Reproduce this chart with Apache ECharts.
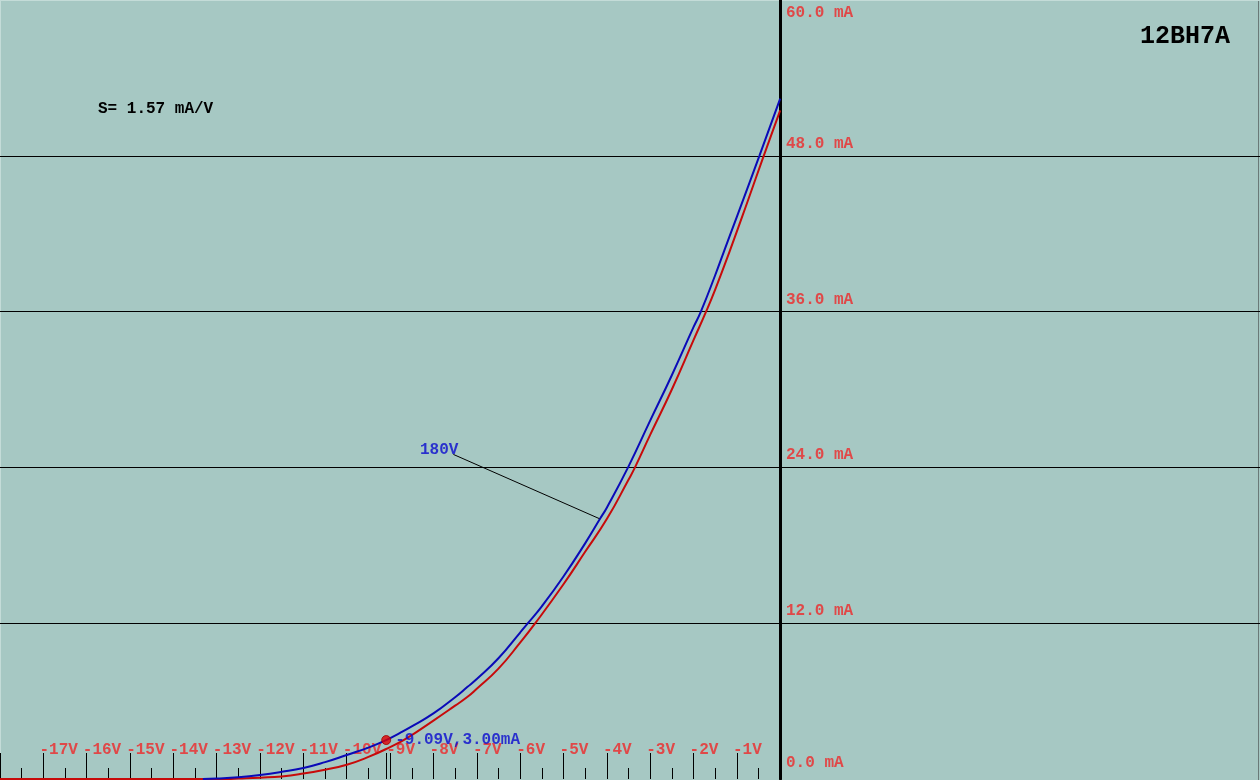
<!DOCTYPE html>
<html>
<head>
<meta charset="utf-8">
<script src="https://cdn.jsdelivr.net/npm/echarts@6/dist/echarts.min.js"></script>
<style>
html,body{margin:0;padding:0;background:#a6c8c3;}
#chart{width:1260px;height:780px;}
</style>
</head>
<body>
<div id="chart"></div>
<script>
// ---- data ----
const blueVolts = [-13.32, -13.0, -12.5, -12.0, -11.5, -11.0, -10.5, -10.0, -9.5, -9.09, -8.77, -8.5, -8.0, -7.5, -7.22, -7.0, -6.5, -6.0, -5.82, -5.5, -5.0, -4.5, -4.15, -4.0, -3.51, -3.0, -2.5, -2.0, -1.83, -1.5, -1.29, -1.0, -0.48, 0];
const blueMA    = [0, 0.04, 0.14, 0.31, 0.55, 0.85, 1.3, 1.85, 2.42, 3.0, 3.55, 4.05, 5.05, 6.3, 7.08, 7.7, 9.3, 11.28, 12.0, 13.3, 15.6, 18.15, 20.08, 20.9, 24.0, 27.6, 31.1, 34.8, 36.0, 38.8, 40.7, 43.3, 48.0, 52.4];
const redVolts  = [-18, -12.76, -12.5, -12.0, -11.5, -11.0, -10.5, -10.0, -9.5, -9.0, -8.61, -8.0, -7.5, -7.22, -7.0, -6.5, -6.0, -5.65, -5.0, -4.5, -3.99, -3.5, -3.35, -3.0, -2.5, -2.0, -1.71, -1.5, -1.16, -0.75, -0.38, 0];
const redMA     = [0, 0, 0.03, 0.1, 0.2, 0.42, 0.72, 1.1, 1.7, 2.46, 3.15, 4.5, 5.65, 6.31, 6.95, 8.5, 10.5, 12.0, 15.0, 17.5, 20.08, 23.05, 24.0, 26.5, 30.0, 33.8, 36.0, 37.7, 40.7, 44.5, 48.0, 51.5];
const markerPoint = [-9.09, 3.0];
const markerText = '-9.09V,3.00mA';
const leaderVolts = [-7.54, -4.17];
const leaderMA = [25.0, 20.05];
const curveLabelPoint = [-8.31, 25.38];
const curveLabelText = '180V';
const xLabelValues = [-17,-16,-15,-14,-13,-12,-11,-10,-9,-8,-7,-6,-5,-4,-3,-2,-1];
const xTickLabels = ['-17V','-16V','-15V','-14V','-13V','-12V','-11V','-10V','-9V','-8V','-7V','-6V','-5V','-4V','-3V','-2V','-1V'];
const majorTicks = [-18,-17,-16,-15,-14,-13,-12,-11,-10,-9,-8,-7,-6,-5,-4,-3,-2,-1,-9.09];
const minorTicks = [-17.5,-16.5,-15.5,-14.5,-13.5,-12.5,-11.5,-10.5,-9.5,-8.5,-7.5,-6.5,-5.5,-4.5,-3.5,-2.5,-1.5,-0.5];
const yTickValues = [0, 12, 24, 36, 48, 60];
const yTickLabels = ['0.0 mA','12.0 mA','24.0 mA','36.0 mA','48.0 mA','60.0 mA'];
const tubeName = '12BH7A';
const slopeText = 'S= 1.57 mA/V';

// ---- build ----
const FONT = '"Liberation Mono", "DejaVu Sans Mono", monospace';
const RED_TXT = '#e04848';
const blueData = blueVolts.map((v,i)=>[v, blueMA[i]]);
const redData = redVolts.map((v,i)=>[v, redMA[i]]);
const leaderData = leaderVolts.map((v,i)=>[v, leaderMA[i]]);
const labelShift = 0.09;
const xLabelPos = xLabelValues.map(v => +(v - labelShift).toFixed(3));
const X_MIN = -18, X_MAX = 11.07, W = 1260;
const zeroOffset = -Math.round((0 - X_MIN) / (X_MAX - X_MIN) * W);

const chart = echarts.init(document.getElementById('chart'));
const option = {
  backgroundColor: '#a6c8c3',
  animation: false,
  grid: {left: 0, right: 0, top: -1, bottom: 1},
  xAxis: [{
    type: 'value', min: X_MIN, max: X_MAX, position: 'bottom',
    axisLine: {show: false, onZero: false},
    splitLine: {show: false},
    axisTick: {show: true, inside: true, length: 26, customValues: majorTicks, lineStyle: {color: '#000', width: 1}},
    axisLabel: {
      show: true, inside: true, margin: 29, customValues: xLabelPos,
      align: 'left', verticalAlign: 'middle',
      color: RED_TXT, fontFamily: FONT, fontSize: 16, fontWeight: 'bold',
      formatter: function (v) {
        const i = xLabelPos.indexOf(v);
        return i >= 0 ? xTickLabels[i] : '';
      }
    }
  }, {
    type: 'value', min: X_MIN, max: X_MAX, position: 'bottom',
    axisLine: {show: false, onZero: false},
    splitLine: {show: false},
    axisTick: {show: true, inside: true, length: 11, customValues: minorTicks, lineStyle: {color: '#000', width: 1}},
    axisLabel: {show: false}
  }],
  yAxis: {
    type: 'value', min: 0, max: 60, interval: 12, position: 'left', offset: zeroOffset,
    axisLine: {show: true, onZero: false, lineStyle: {color: '#000', width: 3}},
    axisTick: {show: false},
    splitLine: {show: true, lineStyle: {color: ['rgba(0,0,0,0)', '#000', '#000', '#000', '#000', 'rgba(0,0,0,0)'], width: 1}},
    axisLabel: {
      show: true, inside: true, margin: 6, align: 'left', verticalAlign: 'middle',
      formatter: function (v) {
        const i = yTickValues.indexOf(v);
        const t = i >= 0 ? yTickLabels[i] : '';
        if (v === 60) return '{t|' + t + '}';
        if (v === 0) return '{z|' + t + '}';
        return '{m|' + t + '}';
      },
      rich: {
        t: {color: RED_TXT, fontFamily: FONT, fontSize: 16, fontWeight: 'bold', padding: [26, 0, 0, 0]},
        m: {color: RED_TXT, fontFamily: FONT, fontSize: 16, fontWeight: 'bold', padding: [0, 0, 24, 0]},
        z: {color: RED_TXT, fontFamily: FONT, fontSize: 16, fontWeight: 'bold', padding: [0, 0, 32, 0]}
      }
    }
  },
  series: [
    {
      type: 'line', data: redData, showSymbol: false, smooth: 0.5,
      lineStyle: {color: '#c80a0a', width: 2}, z: 3, silent: true
    },
    {
      type: 'line', data: blueData, showSymbol: false, smooth: 0.5,
      lineStyle: {color: '#0a0ab8', width: 2}, z: 4, silent: true
    },
    {
      type: 'line', data: leaderData, showSymbol: false, smooth: false,
      lineStyle: {color: '#000', width: 1}, z: 5, silent: true
    },
    {
      type: 'scatter', data: [markerPoint], symbolSize: 9, z: 6,
      itemStyle: {color: '#e00000', borderColor: '#a00000', borderWidth: 1},
      label: {show: true, position: 'right', distance: 4, formatter: markerText,
        color: '#0a0ad0', fontFamily: FONT, fontSize: 16, fontWeight: 'bold'}
    },
    {
      type: 'scatter', data: [curveLabelPoint], symbolSize: 0, z: 6,
      label: {show: true, position: 'right', distance: 0, formatter: curveLabelText,
        color: '#0a0ad0', fontFamily: FONT, fontSize: 16, fontWeight: 'bold'}
    }
  ],
  graphic: [
    {type: 'text', left: 1140, top: 24, style: {text: tubeName, fill: '#000', font: 'bold 25px ' + FONT}},
    {type: 'text', left: 98, top: 101, style: {text: slopeText, fill: '#000', font: 'bold 16px ' + FONT}},
    {type: 'line', shape: {x1: 1258.5, y1: 0, x2: 1258.5, y2: 780}, style: {stroke: '#6a7a78', lineWidth: 1}},
    {type: 'line', shape: {x1: 0.5, y1: 0, x2: 0.5, y2: 780}, style: {stroke: '#c4dcd8', lineWidth: 1}},
    {type: 'line', shape: {x1: 0, y1: 0.5, x2: 1260, y2: 0.5}, style: {stroke: '#c4dcd8', lineWidth: 1}}
  ]
};
chart.setOption(option);
</script>
</body>
</html>
